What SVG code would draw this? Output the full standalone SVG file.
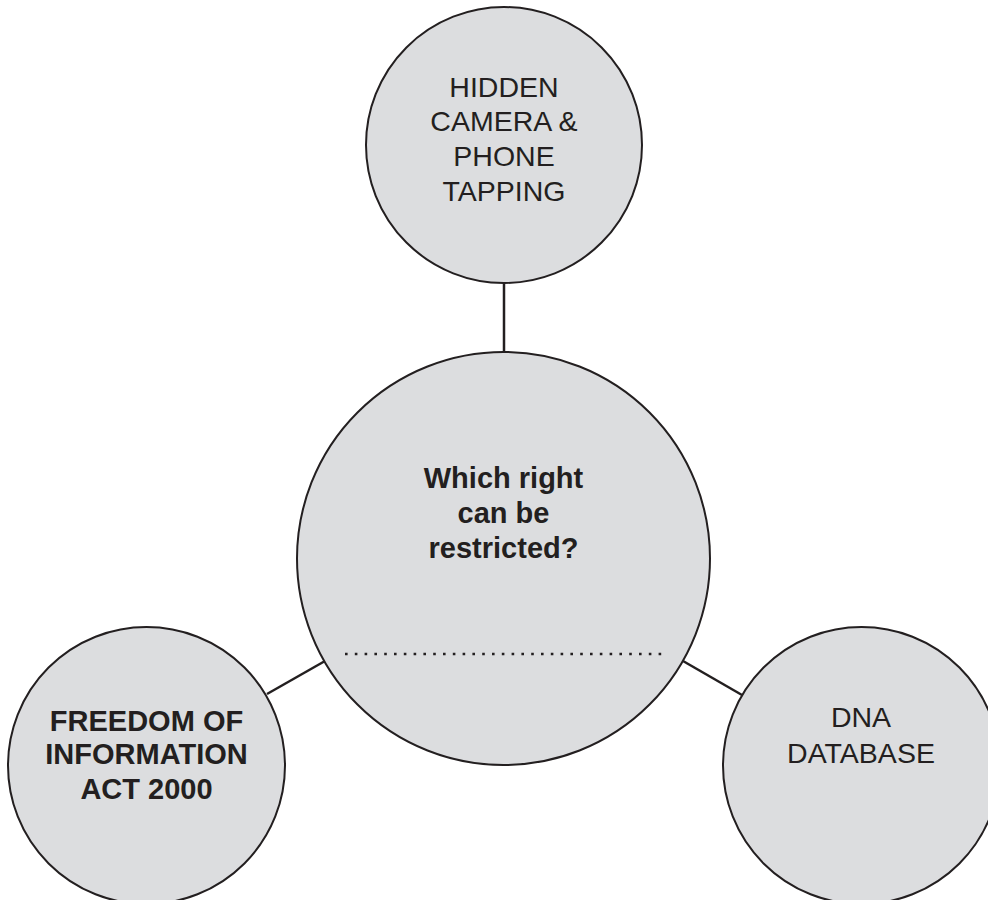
<svg xmlns="http://www.w3.org/2000/svg" width="988" height="900" viewBox="0 0 988 900">
<style>
.node{fill:#dcdddf;stroke:#231f20;stroke-width:2}
.edge{stroke:#231f20;stroke-width:2.5;fill:none}
.t{font-family:"Liberation Sans",Arial,sans-serif;font-size:28.5px;fill:#231f20;text-anchor:middle}
.b{font-weight:bold;font-size:29px}
.dots{stroke:#231f20;stroke-width:2.6;stroke-dasharray:2.6 7.2}
</style>
<rect width="988" height="900" fill="#ffffff"/>
<g id="connectors">
<line class="edge" x1="504" y1="283" x2="504" y2="352"/>
<line class="edge" x1="267" y1="694" x2="325" y2="661"/>
<line class="edge" x1="683" y1="661" x2="742" y2="695"/>
</g>
<g id="top">
<circle class="node" cx="504" cy="145" r="138"/>
<text class="t" x="504" y="97">HIDDEN</text>
<text class="t" x="504" y="131">CAMERA &amp;</text>
<text class="t" x="504" y="166">PHONE</text>
<text class="t" x="504" y="201">TAPPING</text>
</g>
<g id="center">
<circle class="node" cx="503.5" cy="558.5" r="206.5"/>
<text class="t b" x="503.5" y="488">Which right</text>
<text class="t b" x="503.5" y="523">can be</text>
<text class="t b" x="503.5" y="558">restricted?</text>
<line class="dots" x1="345" y1="654" x2="662" y2="654"/>
</g>
<g id="left">
<circle class="node" cx="146.5" cy="765.5" r="138.5"/>
<text class="t b" x="146.5" y="731">FREEDOM OF</text>
<text class="t b" x="146.5" y="764">INFORMATION</text>
<text class="t b" x="146.5" y="799">ACT 2000</text>
</g>
<g id="right">
<circle class="node" cx="861.5" cy="765.5" r="138.5"/>
<text class="t" x="861" y="727">DNA</text>
<text class="t" x="861" y="763">DATABASE</text>
</g>
</svg>
